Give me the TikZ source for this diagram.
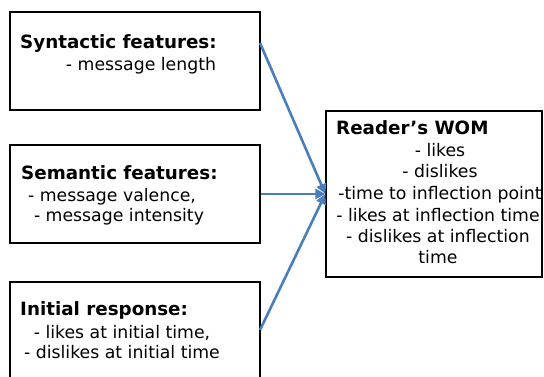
\documentclass[tikz,border=0pt]{standalone}
\usepackage{fontspec}
\setmainfont{DejaVu Sans}
\usetikzlibrary{arrows.meta}
\definecolor{arrowblue}{RGB}{74,126,187}
\begin{document}
\begin{tikzpicture}[x=1pt,y=-1pt,
  box/.style={draw=black,line width=1.3pt,rectangle,inner sep=0pt,fill=white},
  ttl/.style={anchor=base west,inner sep=0pt,font=\fontsize{18.3}{20}\selectfont\bfseries},
  bdy/.style={anchor=base,inner sep=0pt,font=\fontsize{17.3}{19}\selectfont},
  conn/.style={draw=arrowblue,line width=2.6pt,-{Triangle[length=10pt,width=10pt]}}]
\useasboundingbox (0,0) rectangle (544,377);
\clip (0,0) rectangle (544,377);
\node[box,minimum width=250pt,minimum height=98pt] (b1) at (135,61) {};
\node[box,minimum width=250pt,minimum height=98pt] (b2) at (135,194) {};
\node[box,minimum width=250pt,minimum height=120pt] (b3) at (135,342) {};
\node[box,minimum width=216pt,minimum height=166pt] (wom) at (434,194) {};
% texts
\node[ttl] (t1) at (20,49) {Syntactic features:};
\node[bdy] (t1a) at (141,71) {- message length};
\node[ttl] (t2) at (21,180) {Semantic features:};
\node[bdy] (t2a) at (112,201) {- message valence,};
\node[bdy] (t2b) at (119,222) {- message intensity};
\node[ttl] (t3) at (20,315) {Initial response:};
\node[bdy] (t3a) at (122,338) {- likes at initial time,};
\node[bdy] (t3b) at (122,358) {- dislikes at initial time};
\node[ttl] (t4) at (336,135) {Reader’s WOM};
\node[bdy] (t4a) at (440,157) {- likes};
\node[bdy] (t4b) at (440,178) {- dislikes};
\node[bdy] (t4c) at (440,200) {-time to inflection point};
\node[bdy] (t4d) at (438,222) {- likes at inflection time};
\node[bdy] (t4e) at (438,243) {- dislikes at inflection};
\node[bdy] (t4f) at (438,263) {time};
% connectors
\coordinate (s1) at (260,43);
\coordinate (s3) at (260,330);
\draw[conn] (s1) -- (wom.west);
\draw[conn] (b2.east) -- (wom.west);
\draw[conn] (s3) -- (wom.west);
\end{tikzpicture}
\end{document}
